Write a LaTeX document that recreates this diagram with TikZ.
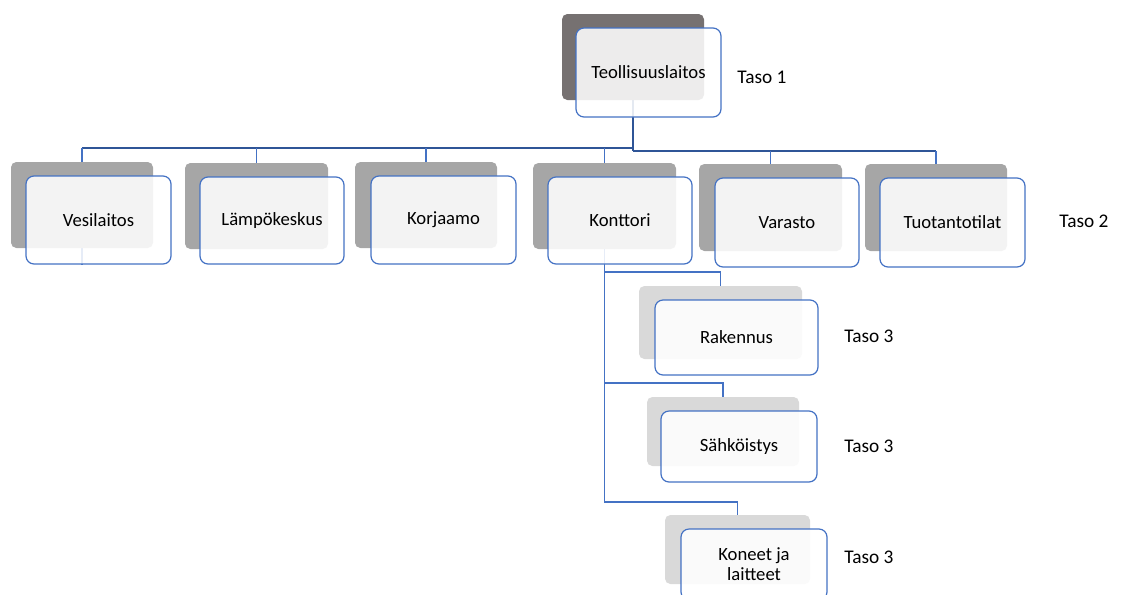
\documentclass[tikz,border=0pt]{standalone}
\usepackage{fontspec}
\setmainfont{Carlito}
\usetikzlibrary{positioning}
\pgfdeclarelayer{edgelayer}
\pgfsetlayers{edgelayer,main}
\definecolor{cardblue}{HTML}{4472C4}
\definecolor{stemblue}{HTML}{2F5597}
\definecolor{topgray}{HTML}{767171}
\definecolor{midgray}{HTML}{A6A6A6}
\definecolor{lowgray}{HTML}{D9D9D9}
\tikzset{font=\fontsize{14}{15}\selectfont}
\tikzset{boxsize/.style 2 args={minimum width=#1*0.75pt,minimum height=#2*0.75pt}}
\tikzstyle{back}=[rounded corners=4pt,inner sep=0pt]
\tikzstyle{card}=[rounded corners=6pt,draw=cardblue,line width=0.9pt,fill=white,fill opacity=0.87,text opacity=1,align=center,inner sep=0pt]
\tikzstyle{link}=[draw=cardblue,line width=1pt]
\tikzstyle{bus}=[draw=stemblue,line width=1.4pt]
\tikzstyle{taso}=[font=\fontsize{14.5}{16}\selectfont]

\begin{document}
\begin{tikzpicture}[x=0.75pt,y=-0.75pt]
\clip (0,0) rectangle (1121,594);
% taso 1
\node[back,fill=topgray,boxsize={142}{86}] (topS) at (633,57) {};
\node[card,boxsize={145}{89}] (top) at (648.5,72.5) {Teollisuuslaitos};
\node[taso] (taso1) at (762,77) {Taso 1};
% taso 2
\node[back,fill=midgray,boxsize={142}{86}] (vesiS) at (82,205) {};
\node[card,boxsize={145}{88}] (vesi) at (98.5,220) {Vesilaitos};
\node[back,fill=midgray,boxsize={143}{86}] (lampoS) at (256.5,206) {};
\node[card,boxsize={144}{87}] (lampo) at (272,220.5) {Lämpökeskus};
\node[back,fill=midgray,boxsize={142}{86}] (korjS) at (426,205) {};
\node[card,boxsize={145}{88}] (korj) at (443.5,220) {Korjaamo};
\node[back,fill=midgray,boxsize={143}{86}] (kontS) at (604.5,206) {};
\node[card,boxsize={144}{87}] (kont) at (620,220.5) {Konttori};
\node[back,fill=midgray,boxsize={143}{87}] (varS) at (770.5,207.5) {};
\node[card,boxsize={144}{89}] (var) at (787,222.5) {Varasto};
\node[back,fill=midgray,boxsize={142}{87}] (tuoS) at (936,207.5) {};
\node[card,boxsize={145}{89}] (tuo) at (952.5,222.5) {Tuotantotilat};
\node[taso] (taso2) at (1084,221) {Taso 2};
% taso 3
\node[back,fill=lowgray,boxsize={163}{73}] (rakS) at (720.5,322.5) {};
\node[card,boxsize={163}{75}] (rak) at (736.5,337.5) {Rakennus};
\node[back,fill=lowgray,boxsize={152}{69}] (sahS) at (723,431.5) {};
\node[card,boxsize={156}{71}] (sah) at (739,446.5) {Sähköistys};
\node[back,fill=lowgray,boxsize={145}{69}] (koneS) at (737.5,549.5) {};
\node[card,boxsize={146}{71}] (kone) at (754,564.5) {Koneet ja\\laitteet};
\node[taso] (taso3a) at (869,336) {Taso 3};
\node[taso] (taso3b) at (869,446) {Taso 3};
\node[taso] (taso3c) at (869,557) {Taso 3};

\coordinate (busL) at (0,148);
\coordinate (busR) at (0,151);
\coordinate (b1) at (0,272);
\coordinate (b2) at (0,383);
\coordinate (b3) at (0,502);

\begin{pgfonlayer}{edgelayer}
\draw[bus,line width=2pt] (topS.center) -- (topS.center |- busR);
\draw[bus] (topS.center |- busL) -- (vesiS.center |- busL);
\draw[bus] (topS.center |- busR) -- (tuoS.center |- busR);
\draw[link] (vesiS.center |- busL) -- (vesiS.center |- vesi.south);
\draw[link] (lampoS.north |- busL) -- (lampoS.north);
\draw[link] (korjS.north |- busL) -- (korjS.north);
\draw[link] (varS.north |- busR) -- (varS.north);
\draw[link] (tuoS.north |- busR) -- (tuoS.north);
\draw[link] (kontS.center |- busL) -- (kontS.center |- b3) -| (koneS.north);
\draw[link] (kontS.center |- b1) -| (rakS.north);
\draw[link] (kontS.center |- b2) -| (sahS.north);
\end{pgfonlayer}
\end{tikzpicture}
\end{document}
